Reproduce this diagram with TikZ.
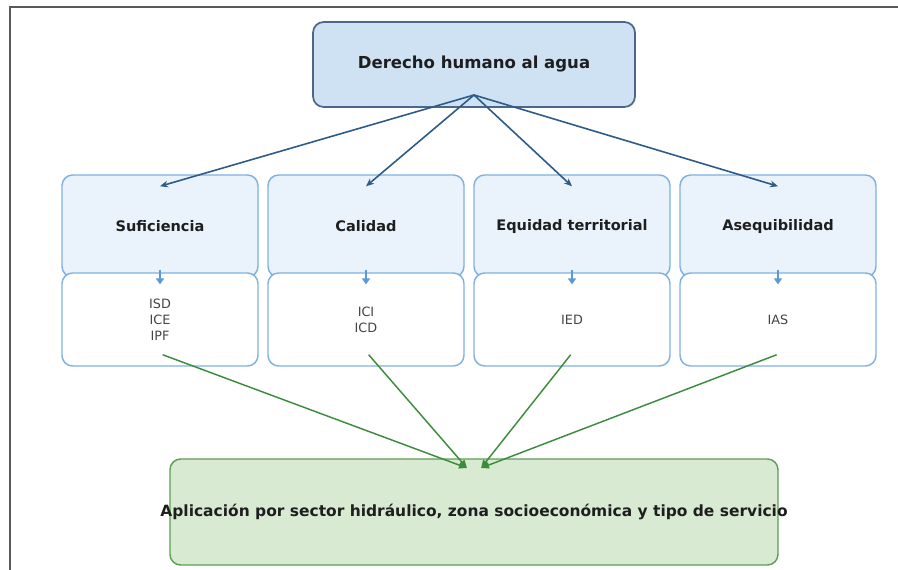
\documentclass[tikz,border=0pt]{standalone}
\usepackage{fontspec}
\setmainfont{DejaVu Sans}
\usetikzlibrary{arrows.meta}
\definecolor{frame}{HTML}{5A5A5A}
\definecolor{topbg}{HTML}{CFE2F3}
\definecolor{topline}{HTML}{4A6888}
\definecolor{critbg}{HTML}{EAF2FB}
\definecolor{critline}{HTML}{7FB2E2}
\definecolor{appbg}{HTML}{D9EAD3}
\definecolor{appline}{HTML}{5E9E55}
\definecolor{link}{HTML}{2E5C88}
\definecolor{down}{HTML}{5B9BD5}
\definecolor{feed}{HTML}{3C8C3C}
\definecolor{text}{HTML}{1E1E1E}
\definecolor{muted}{HTML}{444444}
\tikzset{
  top/.style={draw=topline, fill=topbg, line width=1.3pt, rounded corners=8pt,
    minimum width=241.5pt, minimum height=63.75pt, text=text, font=\bfseries\fontsize{12.4}{14}\selectfont},
  crit/.style={draw=critline, fill=critbg, line width=1.1pt, rounded corners=8pt,
    minimum width=147pt, minimum height=76.5pt, text=text, font=\bfseries\fontsize{10.9}{12}\selectfont},
  ind/.style={draw=critline, fill=white, line width=1.1pt, rounded corners=8pt,
    minimum width=147pt, minimum height=69.75pt, text=muted, align=center,
    font=\fontsize{9.6}{12}\selectfont},
  app/.style={draw=appline, fill=appbg, line width=1.1pt, rounded corners=8pt,
    minimum width=456pt, minimum height=79.5pt, text=text, font=\bfseries\fontsize{11.6}{13}\selectfont},
  linkarr/.style={draw=link, line width=1.2pt, -{Stealth[length=6pt,width=5pt]}},
  downarr/.style={draw=down, line width=1.4pt, -{Triangle[length=4.5pt,width=6pt]}},
  feedarr/.style={draw=feed, line width=1.1pt, -{Triangle[length=6pt,width=5pt]}},
}
\begin{document}
\begin{tikzpicture}[x=0.75pt, y=-0.75pt]
  \useasboundingbox (0,0) rectangle (898,570);
  \draw[frame, line width=1.3pt] (10,570) -- (10,7) -- (898,7);

  \node[top] (dha) at (474,64.5) {Derecho humano al agua};
  \coordinate (hub) at (474,95);

  % criterios e indicadores
  \foreach \n/\x/\lab/\ids in {suf/160/Suficiencia/{ISD\\ICE\\IPF},
      cal/366/Calidad/{ICI\\ICD},
      equ/572/Equidad territorial/{IED},
      ase/778/Asequibilidad/{IAS}} {
    \node[crit] (\n) at (\x,226) {\lab};
    \node[ind] (\n-i) at (\x,319.5) {\ids};
  }

  \node[app] (app) at (474,512) {\makebox[0pt]{Aplicación por sector hidráulico, zona socioeconómica y tipo de servicio}};
  \coordinate (inL) at (467,468);
  \coordinate (inR) at (481,468);

  \foreach \n in {suf,cal,equ,ase} {
    \draw[linkarr] (hub) -- ([yshift=-9pt]\n.north);
    \draw[downarr] ([yshift=6pt]\n.south) -- ([yshift=-5pt]\n.south);
  }
  \draw[feedarr] ([xshift=2pt,yshift=9pt]suf-i.south) -- (inL);
  \draw[feedarr] ([xshift=2pt,yshift=9pt]cal-i.south) -- (inL);
  \draw[feedarr] ([xshift=-1pt,yshift=9pt]equ-i.south) -- (inR);
  \draw[feedarr] ([xshift=-1pt,yshift=9pt]ase-i.south) -- (inR);
\end{tikzpicture}
\end{document}
